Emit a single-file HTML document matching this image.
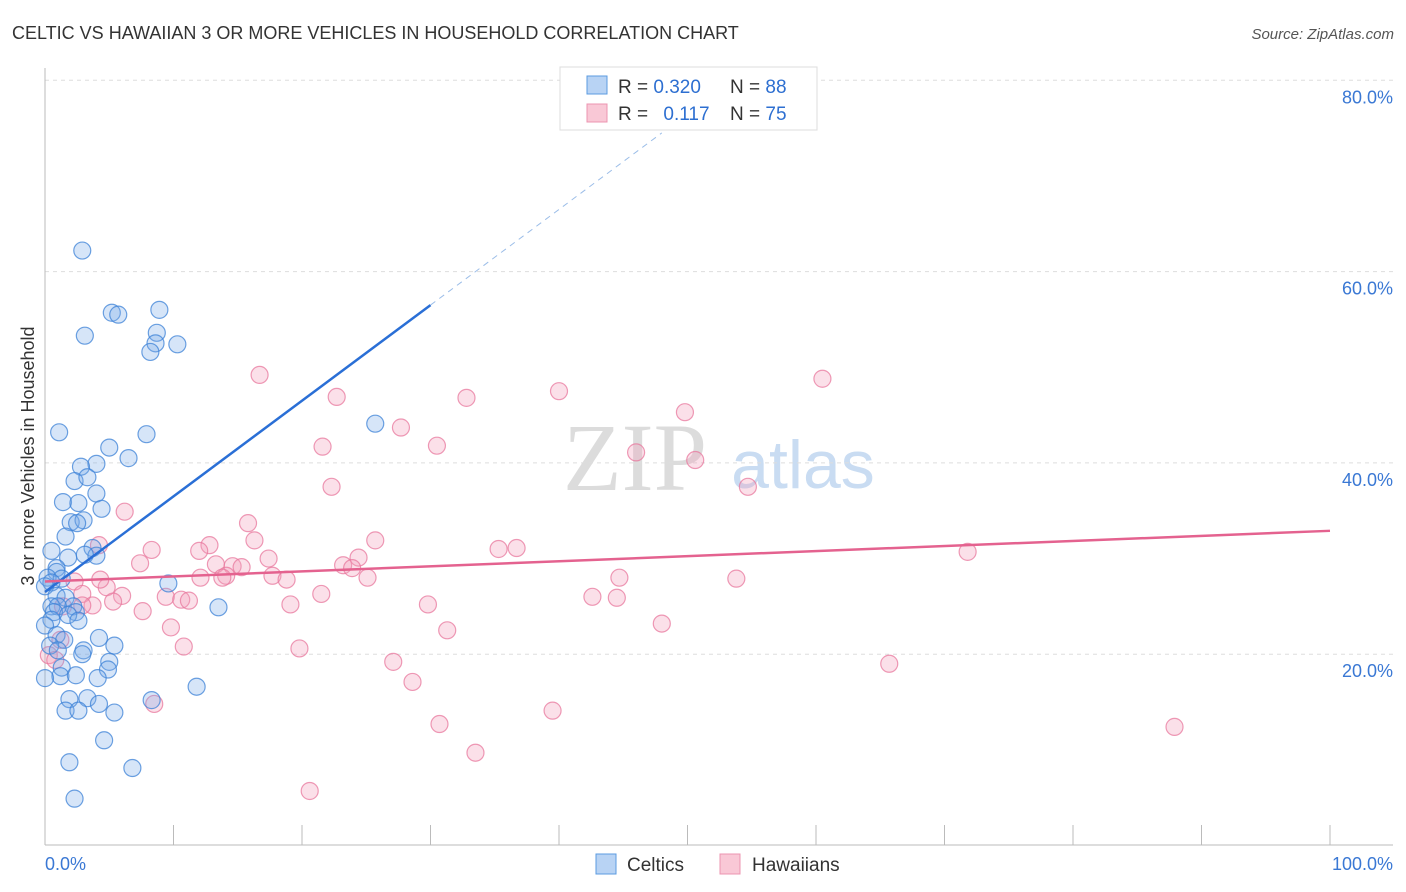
<!DOCTYPE html>
<html><head><meta charset="utf-8"><style>
body{margin:0;background:#fff;font-family:"Liberation Sans",sans-serif;}
#wrap{position:relative;width:1406px;height:892px;overflow:hidden;}
</style></head><body>
<div id="wrap">
<svg id="svg" width="1406" height="892" xmlns="http://www.w3.org/2000/svg">
<text x="12" y="39" font-size="18" fill="#333">CELTIC VS HAWAIIAN 3 OR MORE VEHICLES IN HOUSEHOLD CORRELATION CHART</text>
<text x="1394" y="39" font-size="15" fill="#555" font-style="italic" text-anchor="end">Source: ZipAtlas.com</text>
<text x="635" y="490" font-size="96" fill="#dcdcdc" font-family="Liberation Serif,serif" text-anchor="middle">ZIP</text>
<text x="803" y="488" font-size="68" fill="#c9dcf2" text-anchor="middle">atlas</text>
<text transform="translate(34,456) rotate(-90)" font-size="18" fill="#333" text-anchor="middle">3 or more Vehicles in Household</text>
<g id="grid"></g><g id="axes"></g><g id="pts"></g><g id="lines"></g>
<g>
<rect x="560" y="67" width="257" height="63" fill="#fff" stroke="#ddd"/>
<rect x="587" y="76" width="20" height="18" fill="#b8d3f4" stroke="#5b9be0"/>
<rect x="587" y="104" width="20" height="18" fill="#f9c8d6" stroke="#ec94b0"/>
<text x="618" y="93" font-size="19" fill="#333">R = <tspan fill="#2d6fd1">0.320</tspan></text>
<text x="730" y="93" font-size="19" fill="#333">N = <tspan fill="#2d6fd1">88</tspan></text>
<text x="618" y="120" font-size="19" fill="#333">R = <tspan fill="#2d6fd1" dx="10">0.117</tspan></text>
<text x="730" y="120" font-size="19" fill="#333">N = <tspan fill="#2d6fd1">75</tspan></text>
</g>
<g>
<rect x="596" y="854" width="20" height="20" fill="#b8d3f4" stroke="#5b9be0"/>
<text x="627" y="871" font-size="19" fill="#333">Celtics</text>
<rect x="720" y="854" width="20" height="20" fill="#f9c8d6" stroke="#ec94b0"/>
<text x="752" y="871" font-size="19" fill="#333">Hawaiians</text>
</g>
</svg>
</div>
<script>
const yTicks=[20,40,60,80];
const yTickLabels=["20.0%","40.0%","60.0%","80.0%"];
const xEndLabels=["0.0%","100.0%"];
const celticsX=[2.9,5.2,5.7,8.9,3.1,8.7,8.6,8.2,10.3,25.7,1.1,7.9,5.0,4.0,6.5,2.8,2.3,3.3,4.0,1.4,2.6,4.4,2.0,3.0,2.5,1.6,0.5,1.8,3.7,4.0,3.1,0.9,0.9,0.2,1.3,0.5,0,9.6,0.9,1.6,0.5,2.2,2.4,1.0,13.5,0.7,1.8,0.5,2.6,0,0.9,1.5,4.2,0.4,1.0,3.0,2.9,5.4,5.0,4.9,1.3,1.2,2.4,4.1,0,1.9,3.3,8.3,11.8,1.6,2.6,4.2,5.4,4.6,1.9,6.8,2.3];
const celticsY=[62.2,55.7,55.5,56.0,53.3,53.6,52.5,51.6,52.4,44.1,43.2,43.0,41.6,39.9,40.5,39.6,38.1,38.5,36.8,35.9,35.8,35.2,33.8,34.0,33.7,32.3,30.8,30.1,31.1,30.3,30.4,29.0,28.6,28.0,27.9,27.5,27.1,27.4,26.1,25.9,25.0,25.0,24.4,25.0,24.9,24.4,24.1,23.6,23.5,23.0,22.0,21.5,21.7,20.9,20.4,20.4,20.0,20.9,19.2,18.4,18.6,17.7,17.8,17.5,17.5,15.3,15.4,15.2,16.6,14.1,14.1,14.8,13.9,11.0,8.7,8.1,4.9];
const hawaiiansX=[16.7,60.5,40.0,22.7,32.8,49.8,27.7,21.6,30.5,46.0,50.6,22.3,54.7,6.2,15.8,4.2,8.3,25.7,35.3,36.7,71.8,12.8,12.0,17.4,24.4,16.3,7.4,13.3,14.6,15.3,23.2,23.9,14.1,13.8,12.1,17.7,18.8,25.1,44.7,53.8,2.3,4.8,2.9,6.0,9.4,10.6,11.2,21.5,42.6,44.5,5.3,3.7,19.1,29.8,7.6,9.8,31.3,48.0,10.8,19.8,0.3,27.1,65.7,28.6,8.5,39.5,30.7,87.9,33.5,20.6,1.4,0.8,1.2,4.3,2.9];
const hawaiiansY=[49.2,48.8,47.5,46.9,46.8,45.3,43.7,41.7,41.8,41.1,40.3,37.5,37.5,34.9,33.7,31.4,30.9,31.9,31.0,31.1,30.7,31.4,30.8,30.0,30.1,31.9,29.5,29.4,29.2,29.1,29.3,29.0,28.2,28.0,28.0,28.2,27.8,28.0,28.0,27.9,27.6,27.0,26.3,26.1,26.0,25.7,25.6,26.3,26.0,25.9,25.5,25.1,25.2,25.2,24.5,22.8,22.5,23.2,20.8,20.6,19.9,19.2,19.0,17.1,14.8,14.1,12.7,12.4,9.7,5.7,25.0,19.4,21.5,27.8,25.1];
const celticsTrend=[26.5,1.0]; // intercept, slope
const hawaiiansTrend=[27.6,0.053];
const NS="http://www.w3.org/2000/svg";
const X0=45,X1=1330,Y0=845.5,YS=9.565;
function sx(v){return X0+(X1-X0)*v/100;}
function sy(v){return Y0-v*YS;}
function mk(tag,attrs,parent){const e=document.createElementNS(NS,tag);for(const k in attrs)e.setAttribute(k,attrs[k]);document.getElementById(parent).appendChild(e);return e;}
yTicks.forEach((t,i)=>{
  const l=mk('line',{x1:45,x2:1393,y1:sy(t),y2:sy(t),stroke:'#ddd','stroke-dasharray':'4,4'},'grid');
  
  
  const tx=mk('text',{x:1393,y:sy(t)+23,'font-size':18,fill:'#3a78d4','text-anchor':'end'},'grid');
  tx.textContent=yTickLabels[i];
  
  
});
let ax=mk('line',{x1:45,x2:45,y1:68,y2:845,stroke:'#bbb'},'axes');


ax=mk('line',{x1:45,x2:1393,y1:845,y2:845,stroke:'#bbb'},'axes');


for(let i=0;i<=10;i++){
  const t=mk('line',{x1:sx(i*10),x2:sx(i*10),y1:825,y2:845,stroke:'#bbb'},'axes');
  
  
}
let xl=mk('text',{x:45,y:870,'font-size':18,fill:'#3a78d4'},'axes');xl.textContent=xEndLabels[0];


xl=mk('text',{x:1393,y:870,'font-size':18,fill:'#3a78d4','text-anchor':'end'},'axes');xl.textContent=xEndLabels[1];


hawaiiansX.forEach((x,i)=>{
  const c=mk('circle',{cx:sx(x),cy:sy(hawaiiansY[i]),r:8.5,fill:'rgba(244,160,188,0.32)',stroke:'rgba(232,120,158,0.75)','stroke-width':1.2},'pts');
  
  
});
celticsX.forEach((x,i)=>{
  const c=mk('circle',{cx:sx(x),cy:sy(celticsY[i]),r:8.5,fill:'rgba(120,170,232,0.3)',stroke:'rgba(60,130,215,0.75)','stroke-width':1.2},'pts');
  
  
});
let ln=mk('line',{x1:sx(0),y1:sy(celticsTrend[0]),x2:sx(30),y2:sy(celticsTrend[0]+30*celticsTrend[1]),stroke:'#2a6fd6','stroke-width':2.5},'lines');


ln=mk('line',{x1:sx(30),y1:sy(celticsTrend[0]+30*celticsTrend[1]),x2:sx(48),y2:sy(celticsTrend[0]+48*celticsTrend[1]),stroke:'#9bbde8','stroke-width':1,'stroke-dasharray':'6,5'},'lines');


ln=mk('line',{x1:sx(0),y1:sy(hawaiiansTrend[0]),x2:sx(100),y2:sy(hawaiiansTrend[0]+100*hawaiiansTrend[1]),stroke:'#e4628f','stroke-width':2.5},'lines');


</script>
</body></html>
